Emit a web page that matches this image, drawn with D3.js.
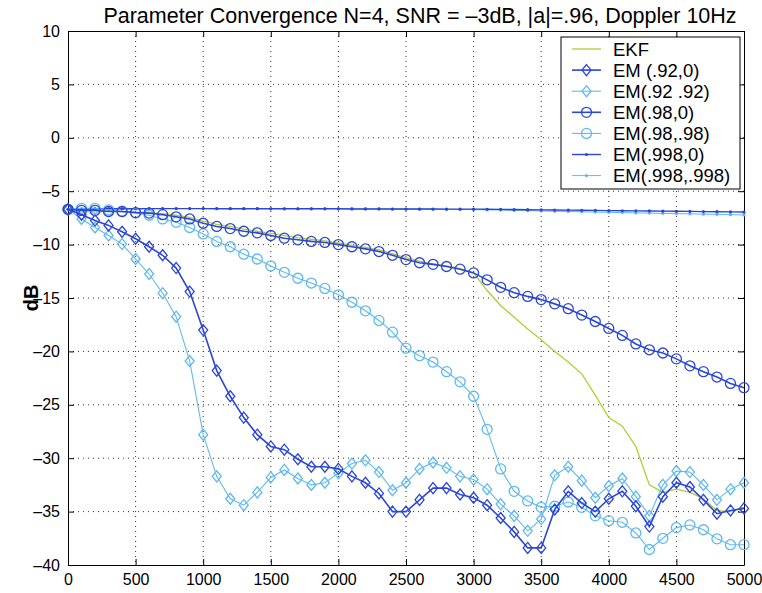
<!DOCTYPE html>
<html>
<head>
<meta charset="utf-8">
<script src="https://cdn.jsdelivr.net/npm/d3@7"></script>
<style>
  body { margin: 0; background: #fff; }
  text { font-family: "Liberation Sans", Arial, sans-serif; fill: #000; }
</style>
</head>
<body>
<div id="chart"></div>
<script>
// iteration index (markers every 100 samples)
const iterations = d3.range(0, 5001, 100);

const xTicks = [0, 500, 1000, 1500, 2000, 2500, 3000, 3500, 4000, 4500, 5000];
const yTicks = [10, 5, 0, -5, -10, -15, -20, -25, -30, -35, -40];

const ekf = [-6.7, -6.75, -6.8, -6.85, -6.9, -6.95, -7.0, -7.1, -7.25, -7.45, -7.8,
  -8.1, -8.3, -8.55, -8.75, -8.95, -9.15, -9.35, -9.5, -9.65, -9.85,
  -10.05, -10.25, -10.5, -10.85, -11.25, -11.55, -11.8, -12.0, -12.25, -12.65,
  -14.3, -15.7, -16.8, -17.9, -18.9, -20.0, -21.0, -22.1, -24.1, -26.2,
  -27.0, -28.9, -32.5, -33.2, -32.9, -33.2, -33.8, -34.9, -35.0, -34.6];

const em92_0 = [-6.7, -7.2, -7.75, -8.2, -8.8, -9.45, -10.2, -11.0, -12.2, -14.4, -18.0,
  -21.8, -24.2, -26.2, -27.8, -28.9, -29.2, -30.1, -30.8, -30.8, -31.0,
  -31.7, -32.3, -33.3, -35.0, -35.0, -33.9, -32.8, -32.8, -33.4, -33.7,
  -34.4, -35.6, -36.9, -38.4, -38.4, -34.8, -33.1, -34.2, -35.0, -33.8,
  -33.1, -34.5, -36.4, -33.6, -32.3, -32.7, -33.9, -35.2, -34.9, -34.7];

const em92_92 = [-6.7, -7.6, -8.4, -9.15, -9.95, -11.35, -12.75, -14.55, -16.75, -20.9, -27.8,
  -31.7, -33.8, -34.4, -33.2, -31.8, -31.1, -31.9, -32.5, -32.3, -31.4,
  -30.5, -30.2, -31.3, -33.0, -32.3, -31.0, -30.4, -30.9, -31.7, -32.0,
  -32.9, -34.3, -35.4, -36.8, -35.7, -31.6, -30.8, -32.1, -33.7, -32.6,
  -31.9, -33.6, -35.4, -32.5, -31.2, -31.3, -32.5, -33.9, -32.9, -32.3];

const em98_0 = [-6.7, -6.8, -6.8, -6.9, -6.9, -7.0, -7.05, -7.2, -7.4, -7.6, -8.0,
  -8.3, -8.5, -8.75, -8.9, -9.15, -9.4, -9.55, -9.7, -9.8, -10.0,
  -10.2, -10.4, -10.65, -11.0, -11.4, -11.7, -11.85, -12.05, -12.3, -12.65,
  -13.3, -14.0, -14.5, -14.85, -15.15, -15.55, -16.0, -16.6, -17.2, -17.85,
  -18.5, -19.3, -19.85, -20.15, -20.7, -21.35, -21.9, -22.4, -23.0, -23.4];

const em98_98 = [-6.7, -6.6, -6.6, -6.75, -6.9, -7.05, -7.25, -7.6, -7.9, -8.4, -9.0,
  -9.7, -10.2, -10.9, -11.35, -12.0, -12.6, -13.15, -13.6, -14.1, -14.7,
  -15.4, -16.2, -17.1, -18.2, -19.7, -20.4, -21.0, -21.9, -22.85, -24.2,
  -27.3, -31.0, -33.1, -34.0, -34.6, -34.5, -34.1, -34.6, -35.4, -35.85,
  -36.0, -37.0, -38.55, -37.5, -36.5, -36.25, -36.7, -37.55, -38.1, -38.1];

const em998_0 = [-6.7, -6.68, -6.66, -6.65, -6.64, -6.64, -6.63, -6.63, -6.63, -6.63, -6.63,
  -6.64, -6.64, -6.64, -6.64, -6.65, -6.65, -6.65, -6.65, -6.65, -6.65,
  -6.66, -6.66, -6.66, -6.67, -6.67, -6.67, -6.67, -6.68, -6.68, -6.68,
  -6.69, -6.7, -6.72, -6.73, -6.75, -6.76, -6.77, -6.79, -6.8, -6.82,
  -6.83, -6.84, -6.85, -6.87, -6.88, -6.89, -6.91, -6.92, -6.94, -6.95];

const em998_998 = [-6.7, -6.67, -6.65, -6.63, -6.62, -6.62, -6.62, -6.62, -6.62, -6.62, -6.62,
  -6.62, -6.62, -6.62, -6.62, -6.63, -6.63, -6.63, -6.64, -6.64, -6.65,
  -6.65, -6.66, -6.66, -6.67, -6.67, -6.68, -6.69, -6.7, -6.71, -6.72,
  -6.74, -6.77, -6.8, -6.82, -6.85, -6.88, -6.9, -6.93, -6.95, -6.98,
  -7.0, -7.03, -7.05, -7.08, -7.1, -7.12, -7.15, -7.17, -7.2, -7.22];

const seriesNames = ["EKF", "EM (.92,0)", "EM(.92 .92)", "EM(.98,0)", "EM(.98,.98)", "EM(.998,0)", "EM(.998,.998)"];

const darkBlue = "#2b46d4";
const lightBlue = "#5fb9ee";
const ekfColor = "#b6cb2e";

// style for each series, same order as seriesNames
const series = [
  { values: ekf, color: ekfColor, width: 1.3, marker: "none" },
  { values: em92_0, color: darkBlue, width: 1.6, marker: "diamond" },
  { values: em92_92, color: lightBlue, width: 1.1, marker: "diamond" },
  { values: em98_0, color: darkBlue, width: 1.6, marker: "circle" },
  { values: em98_98, color: lightBlue, width: 1.1, marker: "circle" },
  { values: em998_0, color: darkBlue, width: 1.4, marker: "dot" },
  { values: em998_998, color: lightBlue, width: 1.0, marker: "dot" }
];

const width = 762;
const height = 593;
const margin = { top: 31, right: 18, bottom: 28, left: 68 };

const svg = d3.select("#chart")
  .append("svg")
  .attr("width", width)
  .attr("height", height);

const x = d3.scaleLinear()
  .domain([0, 5000])
  .range([margin.left, width - margin.right]);

const y = d3.scaleLinear()
  .domain([-40, 10])
  .range([height - margin.bottom, margin.top]);

// dotted grid
const grid = svg.append("g");
grid.selectAll(".gx")
  .data(xTicks.slice(1, -1))
  .enter()
  .append("line")
  .attr("x1", d => x(d)).attr("x2", d => x(d))
  .attr("y1", y(10)).attr("y2", y(-40))
  .attr("stroke", "#333")
  .attr("stroke-width", 1)
  .attr("stroke-dasharray", "1,4");
grid.selectAll(".gy")
  .data(yTicks.slice(1, -1))
  .enter()
  .append("line")
  .attr("x1", x(0)).attr("x2", x(5000))
  .attr("y1", d => y(d)).attr("y2", d => y(d))
  .attr("stroke", "#333")
  .attr("stroke-width", 1)
  .attr("stroke-dasharray", "1,4");

// axes with inward ticks on all four sides
const tickLen = 6;
const fmt = d => d3.format("d")(d).replace("−", "–");
svg.append("g")
  .attr("transform", `translate(0,${y(-40)})`)
  .call(d3.axisBottom(x).tickValues(xTicks).tickSize(-tickLen).tickPadding(9).tickSizeOuter(0).tickFormat(fmt));
svg.append("g")
  .attr("transform", `translate(0,${y(10)})`)
  .call(d3.axisTop(x).tickValues(xTicks).tickSize(-tickLen).tickFormat("").tickSizeOuter(0));
svg.append("g")
  .attr("transform", `translate(${x(0)},0)`)
  .call(d3.axisLeft(y).tickValues(yTicks).tickSize(-tickLen).tickPadding(8).tickSizeOuter(0).tickFormat(fmt));
svg.append("g")
  .attr("transform", `translate(${x(5000)},0)`)
  .call(d3.axisRight(y).tickValues(yTicks).tickSize(-tickLen).tickFormat("").tickSizeOuter(0));

svg.selectAll(".tick text")
  .style("font-family", "'Liberation Sans', Arial, sans-serif")
  .style("font-size", "16px")
  .attr("fill", "#000");
svg.selectAll(".domain").attr("stroke", "#000");
svg.selectAll(".tick line").attr("stroke", "#000");

const line = d3.line()
  .x((d, i) => x(iterations[i]))
  .y(d => y(d));

function drawMarker(g, type, cx, cy, color) {
  if (type === "diamond") {
    g.append("path")
      .attr("d", `M${cx},${cy - 5.5}L${cx + 4.5},${cy}L${cx},${cy + 5.5}L${cx - 4.5},${cy}Z`)
      .attr("fill", "none")
      .attr("stroke", color)
      .attr("stroke-width", 1.3);
  } else if (type === "circle") {
    g.append("circle")
      .attr("cx", cx).attr("cy", cy).attr("r", 5)
      .attr("fill", "none")
      .attr("stroke", color)
      .attr("stroke-width", 1.3);
  } else if (type === "dot") {
    g.append("circle")
      .attr("cx", cx).attr("cy", cy).attr("r", 1.6)
      .attr("fill", color);
  }
}

// draw lines, back to front so the dark ones sit on top
const order = [0, 6, 5, 4, 2, 3, 1];
order.forEach(k => {
  const s = series[k];
  const g = svg.append("g");
  g.append("path")
    .datum(s.values)
    .attr("d", line)
    .attr("fill", "none")
    .attr("stroke", s.color)
    .attr("stroke-width", s.width);
  if (s.marker !== "none") {
    s.values.forEach((v, i) => drawMarker(g, s.marker, x(iterations[i]), y(v), s.color));
  }
});

// legend
const legend = svg.append("g");
const lx = 561, ly = 37, lw = 179, lh = 152;
legend.append("rect")
  .attr("x", lx).attr("y", ly)
  .attr("width", lw).attr("height", lh)
  .attr("fill", "#fff")
  .attr("stroke", "#000")
  .attr("stroke-width", 1);

seriesNames.forEach((name, i) => {
  const s = series[i];
  const yy = ly + 12 + i * 21.1;
  legend.append("line")
    .attr("x1", lx + 11).attr("x2", lx + 40)
    .attr("y1", yy).attr("y2", yy)
    .attr("stroke", s.color)
    .attr("stroke-width", s.width);
  drawMarker(legend, s.marker, lx + 25.5, yy, s.color);
  legend.append("text")
    .attr("x", lx + 52)
    .attr("y", yy + 6.5)
    .style("font-size", "18.5px")
    .text(name);
});

// title
svg.append("text")
  .attr("x", 420)
  .attr("y", 23)
  .attr("text-anchor", "middle")
  .style("font-size", "21.5px")
  .text("Parameter Convergence N=4, SNR = –3dB, |a|=.96, Doppler 10Hz");

// y axis label
svg.append("text")
  .attr("transform", `translate(38,${(y(10) + y(-40)) / 2}) rotate(-90)`)
  .attr("text-anchor", "middle")
  .style("font-size", "20px")
  .style("font-weight", "bold")
  .text("dB");
</script>
</body>
</html>
